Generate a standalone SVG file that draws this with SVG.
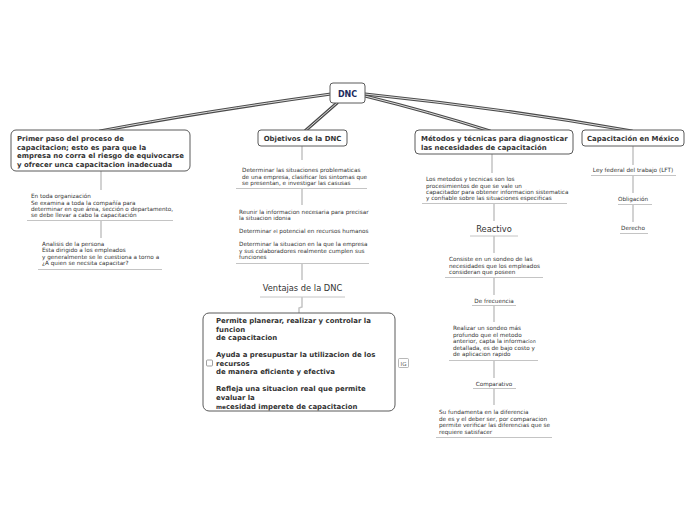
<svg xmlns="http://www.w3.org/2000/svg" width="696" height="520" viewBox="0 0 696 520">
<style>
.box{fill:#fff;stroke:#5a5a5a;stroke-width:1}
.bt{font-family:"DejaVu Sans",Verdana,sans-serif;font-weight:bold;font-size:6.95px;fill:#333}
.st{font-family:"DejaVu Sans",Verdana,sans-serif;font-size:5.7px;fill:#333}
.mt{font-family:"DejaVu Sans",Verdana,sans-serif;font-size:8.3px;fill:#333}
.ul{stroke:#c4c4c4;stroke-width:1;fill:none}
.vl{stroke:#c4c4c4;stroke-width:1.5;fill:none}
.c1{stroke:#4a4a4a;stroke-width:3.2;fill:none;stroke-linecap:round}
.c2{stroke:#dcdcdc;stroke-width:1;fill:none;stroke-linecap:round}
</style>
<rect width="696" height="520" fill="#fff"/>
<g id="connectors">
<path class="c1" d="M331,94 Q200,112 100,131"/>
<path class="c2" d="M331,94 Q200,112 100,131"/>
<path class="c1" d="M337,103 L305,131"/>
<path class="c2" d="M337,103 L305,131"/>
<path class="c1" d="M365,96 Q430,112 490,131"/>
<path class="c2" d="M365,96 Q430,112 490,131"/>
<path class="c1" d="M365,94 Q500,108 632,131"/>
<path class="c2" d="M365,94 Q500,108 632,131"/>
<path class="vl" d="M101,171 V190 M101,220 V238 M302,146 V160 M302,188 V205 M302,263 V280 M302,297 V307 L299,308 V313 M492,154 V173 M494,203 V221 M494,236 V253 M494,277 V295 M494,305 V322 M494,360 V378 M494,388 V405 M633,146 V165 M633,175 V193 M633,204 V222"/>
</g>
<g id="dnc">
<rect class="box" x="330" y="83" width="35" height="20" rx="3" stroke-width="1.3"/>
<text x="347.5" y="97" text-anchor="middle" font-family="DejaVu Sans,Verdana,sans-serif" font-weight="bold" font-size="8px" fill="#1b2a5c">DNC</text>
</g>
<g id="primer-paso">
<rect class="box" x="11" y="130" width="179" height="41" rx="5"/>
<text class="bt" x="17" y="141">Primer paso del proceso de</text>
<text class="bt" x="17" y="149.5">capacitacion; esto es para que la</text>
<text class="bt" x="17" y="158">empresa no corra el riesgo de equivocarse</text>
<text class="bt" x="17" y="166.5">y ofrecer unca capacitacion inadecuada</text>
</g>
<g id="organizacion">
<text class="st" x="31" y="198">En toda organización</text>
<text class="st" x="31" y="204.5">Se examina a toda la compañía para</text>
<text class="st" x="31" y="211">determinar en que área, sección o departamento,</text>
<text class="st" x="31" y="217">se debe llevar a cabo la capacitación</text>
<path class="ul" d="M27,220.5 H173"/>
</g>
<g id="persona">
<text class="st" x="42" y="245.5">Analisis de la persona</text>
<text class="st" x="42" y="252">Esta dirigido a los empleados</text>
<text class="st" x="42" y="258.5">y generalmente se le cuestiona a torno a</text>
<text class="st" x="42" y="265">¿A quien se necsita capacitar?</text>
<path class="ul" d="M38,269.5 H162"/>
</g>
<g id="objetivos">
<rect class="box" x="258" y="130" width="89" height="16" rx="3"/>
<text class="bt" x="302.5" y="141" text-anchor="middle">Objetivos de la DNC</text>
</g>
<g id="obj1">
<text class="st" x="242" y="172">Determinar las situaciones problematicas</text>
<text class="st" x="242" y="178.5">de una empresa, clasificar los sintomas que</text>
<text class="st" x="242" y="184.5">se presentan, e investigar las casusas</text>
<path class="ul" d="M236,188.5 H367"/>
</g>
<g id="obj2">
<text class="st" x="239" y="214">Reunir la informacion necesaria para precisar</text>
<text class="st" x="239" y="220">la situacion idonia</text>
<text class="st" x="239" y="233">Determinar <tspan font-size="4.8px">el</tspan> potencial en recursos humanos</text>
<text class="st" x="239" y="246">Determinar la situacion en la que la empresa</text>
<text class="st" x="239" y="252.5">y sus colaboradores realmente cumplen sus</text>
<text class="st" x="239" y="259">funciones</text>
<path class="ul" d="M236,263.5 H369"/>
</g>
<g id="ventajas">
<text class="mt" x="302.5" y="291" text-anchor="middle">Ventajas de la DNC</text>
<path class="ul" d="M260,297 H345"/>
</g>
<g id="ventajas-box">
<rect class="box" x="203" y="313" width="192" height="98" rx="6"/>
<text class="bt" x="216" y="323">Permite planerar, realizar y controlar la</text>
<text class="bt" x="216" y="331.5">funcion</text>
<text class="bt" x="216" y="340">de capacitacion</text>
<text class="bt" x="216" y="357">Ayuda a presupustar la utilizacion de los</text>
<text class="bt" x="216" y="365.5">recursos</text>
<text class="bt" x="216" y="374">de manera eficiente y efectiva</text>
<text class="bt" x="216" y="391">Refleja una situacion real que permite</text>
<text class="bt" x="216" y="399.5">evaluar la</text>
<text class="bt" x="216" y="409"><tspan font-size="5.8px">me</tspan>cesidad imperete de capacitacion</text>
<rect x="206.5" y="360" width="6" height="6" rx="1" fill="#fff" stroke="#777" stroke-width="0.7"/>
<rect x="398.5" y="358.5" width="10" height="9" rx="1" fill="#fff" stroke="#999" stroke-width="0.7"/>
<text x="403.5" y="365.5" text-anchor="middle" font-family="DejaVu Sans,Verdana,sans-serif" font-size="5.5px" fill="#555">IG</text>
</g>
<g id="metodos">
<rect class="box" x="415" y="130" width="158" height="24" rx="4"/>
<text class="bt" x="421" y="141">Métodos y técnicas para diagnosticar</text>
<text class="bt" x="421" y="149.5">las necesidades de capacitación</text>
</g>
<g id="met1">
<text class="st" x="426" y="181">Los metodos y tecnicas son los</text>
<text class="st" x="426" y="187.5">procesimientos de que se vale un</text>
<text class="st" x="426" y="193.5">capacitador para obtener informacion sistematica</text>
<text class="st" x="426" y="200">y confiable sobre las situaciones especificas</text>
<path class="ul" d="M422,203.5 H567"/>
</g>
<g id="reactivo">
<text class="mt" x="494" y="232" text-anchor="middle">Reactivo</text>
<path class="ul" d="M470,236 H518"/>
</g>
<g id="reactivo-desc">
<text class="st" x="449" y="261">Consiste en un sondeo de las</text>
<text class="st" x="449" y="267.5"> necesidades que los empleados</text>
<text class="st" x="449" y="273.5">consideran que poseen</text>
<path class="ul" d="M445,277.5 H543"/>
</g>
<g id="frecuencia">
<text class="st" x="494" y="302.5" text-anchor="middle">De frecuencia</text>
<path class="ul" d="M472,305.5 H516"/>
</g>
<g id="frecuencia-desc">
<text class="st" x="453" y="330">Realizar un sondeo más</text>
<text class="st" x="453" y="336.5">profundo que el metodo</text>
<text class="st" x="453" y="343">anterior, capta la informa<tspan font-size="4.8px">cion</tspan></text>
<text class="st" x="453" y="349.5">detallada, es de bajo costo y</text>
<text class="st" x="453" y="356">de aplicacion rapido</text>
<path class="ul" d="M449,360.5 H538"/>
</g>
<g id="comparativo">
<text class="st" x="494" y="385.5" text-anchor="middle">Comparativo</text>
<path class="ul" d="M473,388.5 H516"/>
</g>
<g id="comparativo-desc">
<text class="st" x="439" y="414">Su fundamenta en la diferencia</text>
<text class="st" x="439" y="420.5">de es y el deber ser, por comparacion</text>
<text class="st" x="439" y="427">permite verificar las diferencias que se</text>
<text class="st" x="439" y="433.5">requiere satisfacer</text>
<path class="ul" d="M436,437.5 H552"/>
</g>
<g id="capacitacion">
<rect class="box" x="582" y="130" width="102" height="16" rx="3"/>
<text class="bt" x="633" y="141" text-anchor="middle">Capacitación en México</text>
</g>
<g id="ley">
<text class="st" x="633" y="172" text-anchor="middle">Ley federal del trabajo (LFT)</text>
<path class="ul" d="M591,175.5 H676"/>
</g>
<g id="obligacion">
<text class="st" x="633" y="201" text-anchor="middle">Obligación</text>
<path class="ul" d="M618,204.5 H652"/>
</g>
<g id="derecho">
<text class="st" x="633" y="230" text-anchor="middle">Derecho</text>
<path class="ul" d="M620,233.5 H648"/>
</g>
</svg>
